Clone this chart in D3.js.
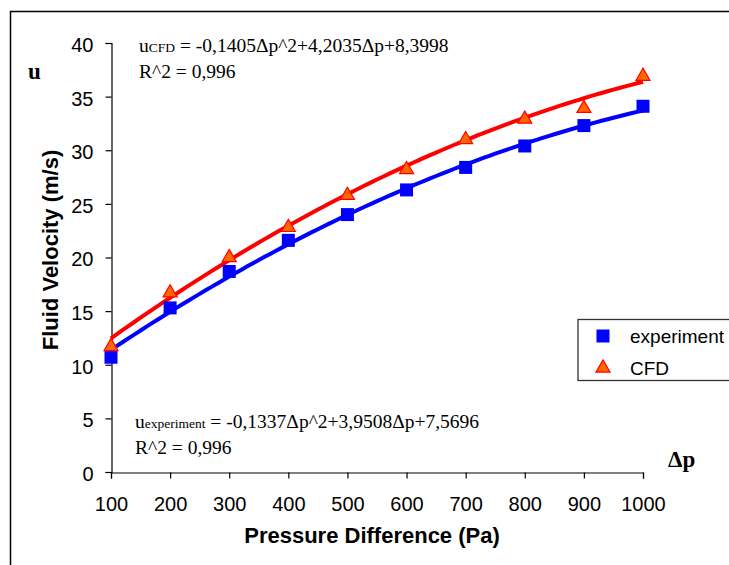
<!DOCTYPE html>
<html>
<head>
<meta charset="utf-8">
<script src="https://cdn.jsdelivr.net/npm/d3@7"></script>
<style>
  html, body { margin: 0; padding: 0; background: #fff; }
  svg { display: block; }
</style>
</head>
<body>
<svg id="chart" width="729" height="565"></svg>
<script>
// Pressure difference categories (Pa)
const pressures = [100, 200, 300, 400, 500, 600, 700, 800, 900, 1000];
// Measured fluid velocity (m/s)
const experiment = [10.7, 15.3, 18.7, 21.6, 24.0, 26.3, 28.4, 30.4, 32.3, 34.1];
// Simulated fluid velocity (m/s)
const cfd = [11.7, 16.7, 20.0, 22.8, 25.8, 28.2, 31.0, 32.9, 33.9, 36.9];
// Quadratic trend coefficients [a, b, c] in u = a·Δp² + b·Δp + c (Δp = point index 1..10)
const fitCFD = [-0.1405, 4.2035, 8.3998];
const fitExperiment = [-0.1337, 3.9508, 7.5696];
const yTicks = [0, 5, 10, 15, 20, 25, 30, 35, 40];

const svg = d3.select("#chart");
const sans = "Liberation Sans, Arial, sans-serif";
const serif = "Liberation Serif, Times New Roman, serif";

// Outer frame (left and top edges visible)
svg.append("path")
  .attr("d", "M10.5,600 L10.5,11.5 L740,11.5")
  .attr("fill", "none").attr("stroke", "#000").attr("stroke-width", 1.5);

const x = d3.scaleLinear().domain([100, 1000]).range([111, 643]);
const y = d3.scaleLinear().domain([0, 40]).range([472, 43]);
const idx = d3.scaleLinear().domain([1, 10]).range([100, 1000]);

// Axes
const gx = svg.append("g").attr("transform", "translate(0,472.5)")
  .call(d3.axisBottom(x).tickValues(pressures).tickSize(6).tickPadding(18).tickFormat(d3.format("d")));
const gy = svg.append("g").attr("transform", "translate(111.5,0)")
  .call(d3.axisLeft(y).tickValues(yTicks).tickSize(6).tickPadding(12));
[gx, gy].forEach(g => {
  g.select(".domain").attr("stroke", "#000").attr("stroke-width", 1.2);
  g.selectAll(".tick line").attr("stroke", "#000").attr("stroke-width", 1.2);
  g.selectAll(".tick text")
    .attr("fill", "#000")
    .style("font-family", sans)
    .style("font-size", "20px");
});
gy.selectAll(".tick text").attr("dy", "0.42em");

// Trend lines from the fitted equations
function trend(coef) {
  const pts = d3.range(1, 10.001, 0.1).map(t => [t, coef[0] * t * t + coef[1] * t + coef[2]]);
  return d3.line().x(d => x(idx(d[0]))).y(d => y(d[1]))(pts);
}
svg.append("path").attr("d", trend(fitExperiment))
  .attr("fill", "none").attr("stroke", "#0000ff").attr("stroke-width", 4).attr("stroke-linejoin", "round");
svg.append("path").attr("d", trend(fitCFD))
  .attr("fill", "none").attr("stroke", "#ff0000").attr("stroke-width", 4).attr("stroke-linejoin", "round");

// Markers
const sq = 13;
svg.append("g").selectAll("rect").data(experiment).join("rect")
  .attr("x", (d, i) => x(pressures[i]) - sq / 2)
  .attr("y", d => y(d) - sq / 2)
  .attr("width", sq).attr("height", sq)
  .attr("fill", "#0000ff");

const tri = d3.symbol().type(d3.symbolTriangle).size(85);
svg.append("g").selectAll("path").data(cfd).join("path")
  .attr("d", tri)
  .attr("transform", (d, i) => `translate(${x(pressures[i])},${y(d)})`)
  .attr("fill", "#ff6600").attr("stroke", "#ff0000").attr("stroke-width", 1.2);

// Axis titles
svg.append("text")
  .attr("transform", "translate(58,250) rotate(-90)")
  .attr("text-anchor", "middle")
  .style("font-family", sans)
  .style("font-size", "22px").style("font-weight", "bold")
  .text("Fluid Velocity  (m/s)");
svg.append("text")
  .attr("x", 372).attr("y", 543)
  .attr("text-anchor", "middle")
  .style("font-family", sans)
  .style("font-size", "22px").style("font-weight", "bold")
  .text("Pressure Difference (Pa)");

svg.append("text").attr("x", 28).attr("y", 79)
  .style("font-family", serif).style("font-size", "23px").style("font-weight", "bold")
  .text("u");
svg.append("text").attr("x", 668).attr("y", 467)
  .style("font-family", serif).style("font-size", "23px").style("font-weight", "bold")
  .text("Δp");

// Fit equations
function fmt(v) { return String(v).replace(".", ","); }
function equation(px, py, sub, coef) {
  const t = svg.append("text").attr("x", px).attr("y", py)
    .style("font-family", serif).style("font-size", "19.5px");
  t.append("tspan").text("u");
  t.append("tspan").style("font-size", "13.5px").text(sub);
  t.append("tspan").text(` = ${fmt(coef[0])}Δp^2+${fmt(coef[1])}Δp+${fmt(coef[2])}`);
  svg.append("text").attr("x", px).attr("y", py + 26)
    .style("font-family", serif).style("font-size", "19.5px")
    .text("R^2 = 0,996");
}
equation(139, 52, "CFD", fitCFD);
equation(135, 428, "experiment", fitExperiment);

// Legend
const lg = svg.append("g");
lg.append("rect").attr("x", 578).attr("y", 319.5).attr("width", 200).attr("height", 61)
  .attr("fill", "#fff").attr("stroke", "#333").attr("stroke-width", 1.3);
lg.append("rect").attr("x", 603 - sq / 2).attr("y", 336 - sq / 2).attr("width", sq).attr("height", sq)
  .attr("fill", "#0000ff");
lg.append("path").attr("d", tri).attr("transform", "translate(603,368)")
  .attr("fill", "#ff6600").attr("stroke", "#ff0000").attr("stroke-width", 1.2);
lg.selectAll("text.lbl").data(["experiment", "CFD"]).join("text")
  .attr("x", 630).attr("y", (d, i) => 343 + i * 32)
  .style("font-family", sans).style("font-size", "19px")
  .text(d => d);
</script>
</body>
</html>
